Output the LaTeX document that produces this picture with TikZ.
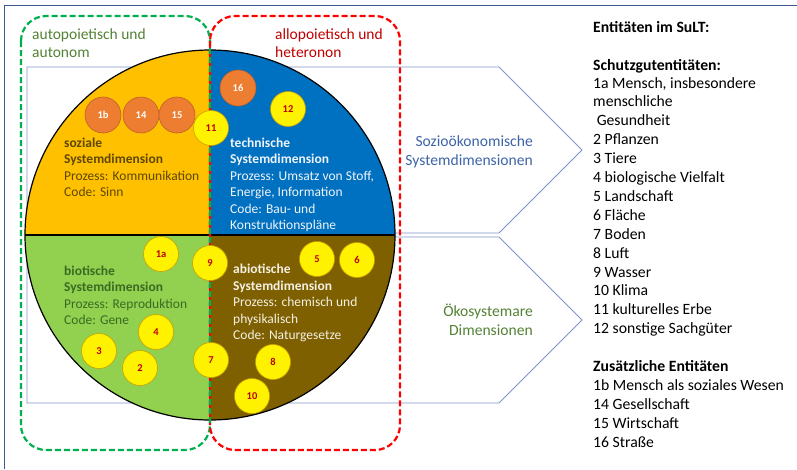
\documentclass[tikz,border=0pt]{standalone}
\usepackage{fontspec}
\setmainfont{Carlito}
\begin{document}
\begin{tikzpicture}[x=1pt,y=-1pt,
  yel/.style={circle, fill=yellow, draw=cYB, line width=0.6pt, minimum size=35pt, inner sep=0pt,
    font=\bfseries\fontsize{10.5}{12}\selectfont, text=cRed},
  ora/.style={circle, fill=cOra, draw=cOraB, line width=0.6pt, minimum size=36pt, inner sep=0pt,
    font=\bfseries\fontsize{10.5}{12}\selectfont, text=white},
  sect/.style={anchor=base west, inner sep=0pt, font=\fontsize{13.5}{16.5}\selectfont},
  leg/.style={anchor=base west, inner sep=0pt, font=\fontsize{15.7}{18.9}\selectfont},
  lab/.style={anchor=base west, inner sep=0pt, font=\fontsize{15.5}{19}\selectfont},
  arrlab/.style={anchor=base east, inner sep=0pt, font=\fontsize{15.6}{19}\selectfont},
  penta/.style={draw=cPen, line width=0.8pt},
  gdash/.style={draw=cGreenD, line width=2.2pt, dash pattern=on 6pt off 3pt},
  rdash/.style={draw=cRedD, line width=2.2pt, dash pattern=on 6pt off 3pt}
]
\definecolor{cYB}{HTML}{C9A000}
\definecolor{cRed}{HTML}{C00000}
\definecolor{cOra}{HTML}{ED7D31}
\definecolor{cOraB}{HTML}{C0602A}
\definecolor{cPen}{HTML}{7F96C8}
\definecolor{cGreenD}{HTML}{00B050}
\definecolor{cRedD}{HTML}{FF0000}
\definecolor{cFrame}{HTML}{3A5A90}
\definecolor{sOra}{HTML}{FFC000}
\definecolor{sBlue}{HTML}{0070C0}
\definecolor{sGreen}{HTML}{92D050}
\definecolor{sBrown}{HTML}{7F6000}
\definecolor{tOra}{HTML}{5E4800}
\definecolor{tGreen}{HTML}{3A6B22}
\definecolor{tBlue}{HTML}{F0F4FA}
\definecolor{tBrown}{HTML}{F4F0E4}
\definecolor{lBlue}{HTML}{3E64A8}
\definecolor{lGreen}{HTML}{548235}

\useasboundingbox (0,0) rectangle (797,469);
\fill[white] (0,0) rectangle (797,469);

% frame (top and left edges)
\draw[cFrame, line width=1.8pt] (4.5,469) -- (4.5,5.5) -- (797,5.5);

% pentagon arrows
\draw[penta] (27,67) -- (499,67) -- (582,150) -- (499,233) -- (27,233) -- cycle;
\draw[penta] (27,237) -- (499,237) -- (582,320) -- (499,403) -- (27,403) -- cycle;

% circle sectors
\coordinate (c) at (210,235);
\fill[sOra] (c) -- (25,235) arc[start angle=180, end angle=270, radius=185] -- cycle;
\fill[sBlue] (c) -- (210,50) arc[start angle=270, end angle=360, radius=185] -- cycle;
\fill[sBrown] (c) -- (395,235) arc[start angle=0, end angle=90, radius=185] -- cycle;
\fill[sGreen] (c) -- (210,420) arc[start angle=90, end angle=180, radius=185] -- cycle;
\draw[black, line width=1.2pt] (c) circle[radius=185];
\draw[black, line width=2.5pt] (25,235) -- (395,235);

% dashed boxes
\draw[gdash, rounded corners=25pt] (21,16) rectangle (210,450);
\draw[rdash, rounded corners=25pt] (210,16) rectangle (400,450);
\draw[cGreenD, line width=2.2pt] (210,45) -- (210,425);
\draw[cRedD, line width=2.2pt, dash pattern=on 3pt off 6pt] (210,45) -- (210,425);

% labels of the boxes
\node[lab, text=lGreen] (ga) at (32,39) {autopoietisch und};
\node[lab, text=lGreen] (gb) at (32,57.5) {autonom};
\node[lab, text=cRed] (ra) at (275,39) {allopoietisch und};
\node[lab, text=cRed] (rb) at (275,57.5) {heteronon};

% arrow labels
\node[arrlab, text=lBlue] (sa) at (533,146) {Sozioökonomische};
\node[arrlab, text=lBlue] (sb) at (533,165) {Systemdimensionen};
\node[arrlab, text=lGreen] (oa) at (533,316) {Ökosystemare};
\node[arrlab, text=lGreen] (ob) at (533,335) {Dimensionen};

% sector texts
\foreach \t [count=\i from 0] in {{\bfseries soziale},{\bfseries Systemdimension},{Prozess: Kommunikation},{Code: Sinn}}
  \node[sect, text=tOra] (so\i) at (64,147+\i*16.5) {\t};
\foreach \t [count=\i from 0] in {{\bfseries technische},{\bfseries Systemdimension},{Prozess: Umsatz von Stoff,},{Energie, Information},{Code: Bau- und},{Konstruktionspläne}}
  \node[sect, text=tBlue] (te\i) at (230,147+\i*16.5) {\t};
\foreach \t [count=\i from 0] in {{\bfseries biotische},{\bfseries Systemdimension},{Prozess: Reproduktion},{Code: Gene}}
  \node[sect, text=tGreen] (bi\i) at (64,275+\i*16.6) {\t};
\foreach \t [count=\i from 0] in {{\bfseries abiotische},{\bfseries Systemdimension},{Prozess: chemisch und},{physikalisch},{Code: Naturgesetze}}
  \node[sect, text=tBrown] (ab\i) at (233,273.5+\i*16.6) {\t};

% entity circles
\node[ora] (e1b) at (103,115) {1b};
\node[ora] (e14) at (141,115) {14};
\node[ora] (e15) at (177,115) {15};
\node[ora] (e16) at (238,88) {16};
\node[yel] (e11) at (211,128) {11};
\node[yel] (e12) at (288,109) {12};
\node[yel] (e1a) at (161,254) {1a};
\node[yel] (e9) at (210,263) {9};
\node[yel] (e5) at (317,259) {5};
\node[yel] (e6) at (357,260) {6};
\node[yel] (e4) at (156,332) {4};
\node[yel] (e3) at (99,351) {3};
\node[yel] (e2) at (140,368) {2};
\node[yel] (e7) at (211,360) {7};
\node[yel] (e8) at (273,362) {8};
\node[yel] (e10) at (252,396) {10};

% legend
\node[leg, font=\bfseries\fontsize{15.7}{18.9}\selectfont] (lt) at (593,32) {Entitäten im SuLT:};
\node[leg, font=\bfseries\fontsize{15.7}{18.9}\selectfont] (ls) at (593,70) {Schutzgutentitäten:};
\foreach \t [count=\i from 0] in {{1a Mensch, insbesondere},{menschliche},{\ Gesundheit},{2 Pflanzen},{3 Tiere},{4 biologische Vielfalt},{5 Landschaft},{6 Fläche},{7 Boden},{8 Luft},{9 Wasser},{10 Klima},{11 kulturelles Erbe},{12 sonstige Sachgüter}}
  \node[leg] (l\i) at (593,88+\i*18.9) {\t};
\node[leg, font=\bfseries\fontsize{15.7}{18.9}\selectfont] (lz) at (593,371.5) {Zusätzliche Entitäten};
\foreach \t [count=\i from 0] in {{1b Mensch als soziales Wesen},{14 Gesellschaft},{15 Wirtschaft},{16 Straße}}
  \node[leg] (m\i) at (593,390.4+\i*18.9) {\t};
\end{tikzpicture}
\end{document}
